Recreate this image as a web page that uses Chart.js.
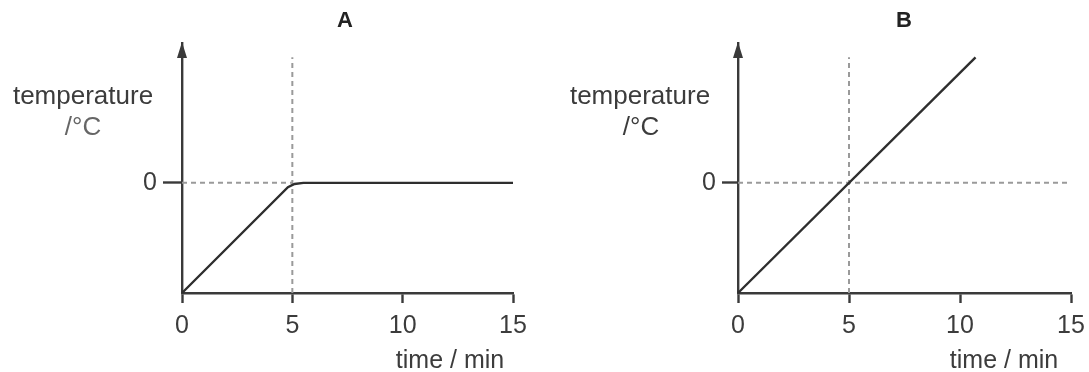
<!DOCTYPE html>
<html>
<head>
<meta charset="utf-8">
<title>Temperature against time</title>
<script src="https://cdn.jsdelivr.net/npm/chart.js@4.4.1/dist/chart.umd.min.js"></script>
<style>
  html, body { margin: 0; padding: 0; background: #ffffff; }
  .wrap { position: relative; width: 1089px; height: 372px; overflow: hidden; }
  canvas { position: absolute; top: 0; }
  #chartA { left: 0; }
  #chartB { left: 545px; }
</style>
</head>
<body>
<div class="wrap">
  <canvas id="chartA" width="545" height="372"></canvas>
  <canvas id="chartB" width="544" height="372"></canvas>
</div>
<script>
// Graph A: warming to 0 °C, then holding at 0 °C
const timeA = [0, 4.8, 5.1, 5.5, 15];
const tempA = [-10, -0.4, -0.1, 0, 0];

// Graph B: steady rise straight through 0 °C
const timeB = [0, 10.7];
const tempB = [-10, 11.4];

// Axis ticks
const xTickValues = [0, 5, 10, 15];
const yTickValues = [0];

// Dotted guide lines
const guideTime = 5;
const guideBottom = -10;
const guideTop = 11.4;
const guideZeroEndA = 5;
const guideZeroEndB = 15;

// Axis extents
const timeMin = 0, timeMax = 15;
const tempMin = -10, tempMax = 12.7;

const FONT = "'Liberation Sans', Arial, sans-serif";
const INK = '#3a3a3a';
const TEXT = '#3c3c3c';
const GUIDE = '#9a9a9a';

function toPoints(xs, ys) {
  return xs.map((x, i) => ({ x: x, y: ys[i] }));
}

// Draws the arrow head on the y axis and the free-standing labels
const annotate = {
  id: 'annotate',
  afterDraw(chart, args, opts) {
    const ctx = chart.ctx;
    const xs = chart.scales.x, ys = chart.scales.y;
    const ax = xs.getPixelForValue(timeMin);
    const tip = ys.getPixelForValue(tempMax);
    ctx.save();
    ctx.fillStyle = INK;
    ctx.beginPath();
    ctx.moveTo(ax, tip - 1);
    ctx.lineTo(ax - 5, tip + 15);
    ctx.lineTo(ax + 5, tip + 15);
    ctx.closePath();
    ctx.fill();
    ctx.textBaseline = 'middle';
    ctx.textAlign = 'center';
    (opts.labels || []).forEach(l => {
      ctx.font = l.font;
      ctx.fillStyle = l.color || TEXT;
      ctx.fillText(l.text, l.x, l.y);
    });
    ctx.restore();
  }
};

function makeChart(id, times, temps, zeroEnd, cfg) {
  const ctx = document.getElementById(id).getContext('2d');
  return new Chart(ctx, {
    type: 'scatter',
    data: {
      datasets: [
        {
          data: toPoints(times, temps),
          showLine: true,
          borderColor: '#2e2e2e',
          borderWidth: 2.4,
          pointRadius: 0,
          tension: 0,
          clip: false
        },
        {
          data: [{ x: timeMin, y: 0 }, { x: zeroEnd, y: 0 }],
          showLine: true,
          borderColor: GUIDE,
          borderWidth: 2,
          borderDash: [5, 4],
          pointRadius: 0,
          clip: false
        },
        {
          data: [{ x: guideTime, y: guideBottom }, { x: guideTime, y: guideTop }],
          showLine: true,
          borderColor: GUIDE,
          borderWidth: 2,
          borderDash: [5, 4],
          pointRadius: 0,
          clip: false
        }
      ]
    },
    options: {
      responsive: false,
      animation: false,
      devicePixelRatio: 1,
      layout: { padding: { top: 43, right: cfg.padRight, left: 0, bottom: 0 } },
      plugins: {
        legend: { display: false },
        tooltip: { enabled: false },
        annotate: { labels: cfg.labels }
      },
      scales: {
        x: {
          type: 'linear',
          min: timeMin,
          max: timeMax,
          afterBuildTicks: s => { s.ticks = xTickValues.map(v => ({ value: v })); },
          afterFit: s => { s.height = 79; s.paddingLeft = 0; s.paddingRight = 0; },
          grid: {
            drawOnChartArea: false,
            drawTicks: true,
            tickLength: 10,
            tickWidth: 2.4,
            tickColor: INK
          },
          border: { display: true, color: INK, width: 2.4 },
          ticks: {
            autoSkip: false,
            maxRotation: 0,
            padding: 8,
            color: TEXT,
            font: { family: FONT, size: 25 }
          }
        },
        y: {
          type: 'linear',
          min: tempMin,
          max: tempMax,
          afterBuildTicks: s => { s.ticks = yTickValues.map(v => ({ value: v })); },
          afterFit: s => { s.width = cfg.axisLeft; s.paddingTop = 0; s.paddingBottom = 0; },
          grid: {
            drawOnChartArea: false,
            drawTicks: true,
            tickLength: cfg.yTickLen,
            tickWidth: 2.4,
            tickColor: INK
          },
          border: { display: true, color: INK, width: 2.4 },
          ticks: {
            padding: 6,
            color: TEXT,
            font: { family: FONT, size: 25 }
          }
        }
      }
    },
    plugins: [annotate]
  });
}

makeChart('chartA', timeA, tempA, guideZeroEndA, {
  axisLeft: 182,
  padRight: 32,
  yTickLen: 19,
  labels: [
    { text: 'A', x: 345, y: 21, font: 'bold 22px ' + FONT, color: '#222222' },
    { text: 'temperature', x: 83, y: 97, font: '26px ' + FONT },
    { text: '/\u00B0C', x: 83, y: 128, font: '26px ' + FONT, color: '#666666' },
    { text: 'time / min', x: 450, y: 361, font: '25px ' + FONT }
  ]
});

makeChart('chartB', timeB, tempB, guideZeroEndB, {
  axisLeft: 193,
  padRight: 18,
  yTickLen: 16,
  labels: [
    { text: 'B', x: 359, y: 21, font: 'bold 22px ' + FONT, color: '#222222' },
    { text: 'temperature', x: 95, y: 97, font: '26px ' + FONT },
    { text: '/\u00B0C', x: 96, y: 128, font: '26px ' + FONT },
    { text: 'time / min', x: 459, y: 361, font: '25px ' + FONT }
  ]
});
</script>
</body>
</html>
